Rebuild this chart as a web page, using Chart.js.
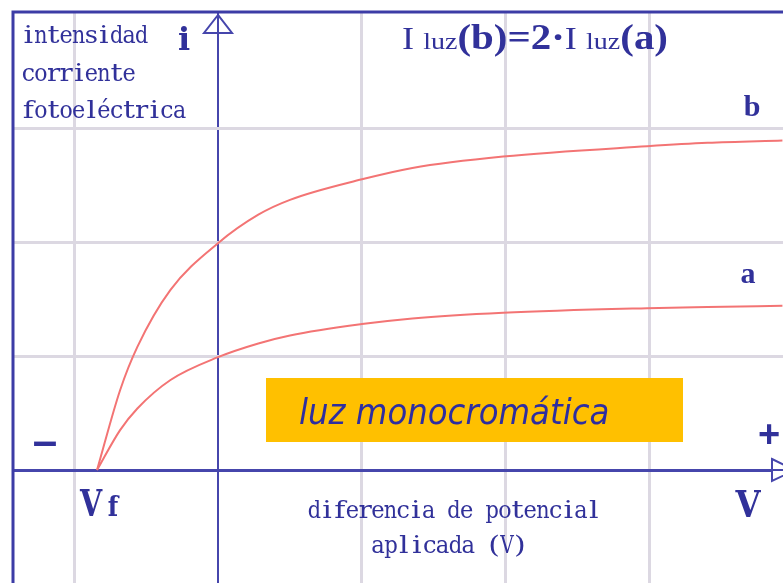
<!DOCTYPE html>
<html>
<head>
<meta charset="utf-8">
<script src="https://cdn.jsdelivr.net/npm/chart.js@4"></script>
<style>
  html, body { margin: 0; padding: 0; background: #fff; }
  #wrap { width: 783px; height: 583px; }
</style>
</head>
<body>
<div id="wrap"><canvas id="c"></canvas></div>
<script>
// photoelectric current vs applied voltage, two light intensities (b = 2·a)

const vB = [-0.84, -0.68, -0.56, -0.33, 0, 0.28, 0.5, 1.0, 1.35, 1.98, 2.98, 3.4, 3.92];
const iB = [0, 0.70, 1.08, 1.58, 1.99, 2.24, 2.37, 2.55, 2.65, 2.75, 2.84, 2.87, 2.89];
const vA = [-0.84, -0.68, -0.56, -0.33, 0, 0.28, 0.5, 1.0, 1.35, 1.98, 2.98, 3.4, 3.92];
const iA = [0, 0.35, 0.54, 0.79, 0.99, 1.11, 1.18, 1.28, 1.33, 1.38, 1.42, 1.43, 1.44];

const xGrid = [-1, 0, 1, 2, 3];
const yGrid = [0, 1, 2, 3];

const NAVY = '#31319a';
const AXIS = '#4646ac';
const GRID = '#dcd8e2';
const CURVE = '#f37474';

const pts = (xs, ys) => xs.map((x, i) => ({ x, y: ys[i] }));

// the labels use a fixed-pitch serif face: put each glyph in its own cell
function monoText(c, s, x, y, cell) {
  [...s].forEach((ch, i) => {
    const w = c.measureText(ch).width || 1;
    const k = Math.max(0.7, Math.min(1.25, (cell * 1.05) / w));
    c.save();
    c.translate(x + cell * (i + 0.5), y);
    c.scale(k, 1);
    c.textAlign = 'center';
    c.fillText(ch, 0, 0);
    c.restore();
  });
}

// run of pieces with their own fonts, squeezed into [x0, x1]
function richText(c, parts, x0, x1, y) {
  const ws = parts.map(([f, t]) => { c.font = f; return c.measureText(t).width; });
  const total = ws.reduce((s, w) => s + w, 0);
  c.save();
  c.translate(x0, y);
  c.scale((x1 - x0) / total, 1);
  c.textAlign = 'left';
  let x = 0;
  parts.forEach(([f, t], i) => { c.font = f; c.fillText(t, x, 0); x += ws[i]; });
  c.restore();
}

const decor = {
  id: 'decor',
  afterDraw(chart) {
    const c = chart.ctx;
    const sx = chart.scales.x, sy = chart.scales.y;
    const x0 = sx.getPixelForValue(0), y0 = sy.getPixelForValue(0);
    c.save();

    // outside the frame stays blank
    c.fillStyle = '#fff';
    c.fillRect(0, 0, 12, 583);
    c.fillRect(0, 0, 783, 11);

    // frame (left + top)
    c.strokeStyle = '#3c3ca6';
    c.lineWidth = 3;
    c.beginPath();
    c.moveTo(13, 583); c.lineTo(13, 12); c.lineTo(783, 12);
    c.stroke();

    // axis arrow heads
    c.fillStyle = '#fff';
    c.strokeStyle = AXIS;
    c.lineWidth = 2;
    c.beginPath();
    c.moveTo(x0, 15); c.lineTo(x0 - 14, 33); c.lineTo(x0 + 14, 33); c.closePath();
    c.fill(); c.stroke();
    c.beginPath(); c.moveTo(x0, 15); c.lineTo(x0, 33); c.stroke();
    c.beginPath();
    c.moveTo(772, y0 - 11); c.lineTo(795, y0); c.lineTo(772, y0 + 11); c.closePath();
    c.fill(); c.stroke();
    c.beginPath(); c.moveTo(772, y0); c.lineTo(783, y0); c.stroke();

    // yellow note box
    c.fillStyle = '#ffc000';
    c.fillRect(266, 378, 417, 64);
    c.fillStyle = '#2e2ea0';
    c.textBaseline = 'alphabetic';
    c.textAlign = 'left';
    c.font = 'italic 36px "DejaVu Sans"';
    c.save();
    c.translate(299, 424);
    c.scale(0.9, 1);
    c.fillText('luz monocromática', 0, 0);
    c.restore();

    // serif labels
    c.fillStyle = NAVY;
    c.font = '24px "DejaVu Serif"';
    monoText(c, 'intensidad', 22, 43, 12.6);
    monoText(c, 'corriente', 22, 81, 12.6);
    monoText(c, 'fotoeléctrica', 22, 118, 12.6);
    monoText(c, 'diferencia de potencial', 454 - 23 * 12.7 / 2, 518, 12.7);
    monoText(c, 'aplicada (V)', 449 - 12 * 12.9 / 2, 553, 12.9);

    c.font = 'bold 32px "DejaVu Serif"';
    c.textAlign = 'center';
    c.fillText('i', 184, 50);

    // formula  I luz(b)=2·I luz(a)
    const big = '31px "Liberation Serif"';
    const bold = 'bold 35px "Liberation Serif"';
    const small = '24px "Liberation Serif"';
    richText(c, [
      [big, 'I '], [small, 'luz'], [bold, '(b)=2·'],
      [big, 'I '], [small, 'luz'], [bold, '(a)'],
    ], 402, 668, 49);

    c.textAlign = 'center';
    c.font = 'bold 30px "Liberation Serif"';
    c.fillText('b', 752, 116);
    c.fillText('a', 748, 283);

    c.textBaseline = 'middle';
    c.font = 'bold 44px "Liberation Sans"';
    c.fillText('–', 45, 444);
    c.font = 'bold 38px "Liberation Sans"';
    c.fillText('+', 769, 437);

    c.textBaseline = 'alphabetic';
    c.font = 'bold 38px "DejaVu Serif"';
    c.save(); c.translate(748, 517); c.scale(0.85, 1); c.fillText('V', 0, 0); c.restore();
    c.save(); c.translate(91, 516); c.scale(0.75, 1); c.fillText('V', 0, 0); c.restore();
    c.font = 'bold 27px "DejaVu Serif"';
    c.save(); c.translate(113, 516); c.scale(0.9, 1); c.fillText('f', 0, 0); c.restore();

    c.restore();
  }
};

new Chart(document.getElementById('c'), {
  type: 'scatter',
  data: {
    datasets: [
      { label: 'b', data: pts(vB, iB), showLine: true, borderColor: CURVE, borderWidth: 2,
        pointRadius: 0, cubicInterpolationMode: 'monotone' },
      { label: 'a', data: pts(vA, iA), showLine: true, borderColor: CURVE, borderWidth: 2,
        pointRadius: 0, cubicInterpolationMode: 'monotone' },
    ],
  },
  options: {
    responsive: true,
    maintainAspectRatio: false,
    animation: false,
    layout: { padding: 0 },
    plugins: { legend: { display: false }, tooltip: { enabled: false } },
    scales: {
      x: {
        type: 'linear', min: -1.514, max: 3.924,
        afterBuildTicks: s => { s.ticks = xGrid.map(v => ({ value: v })); },
        ticks: { display: false },
        border: { display: false },
        grid: {
          drawTicks: false,
          color: ctx => ctx.tick.value === 0 ? AXIS : GRID,
          lineWidth: ctx => ctx.tick.value === 0 ? 2 : 3,
        },
      },
      y: {
        type: 'linear', min: -0.991, max: 4.123,
        afterBuildTicks: s => { s.ticks = yGrid.map(v => ({ value: v })); },
        ticks: { display: false },
        border: { display: false },
        grid: {
          drawTicks: false,
          color: ctx => ctx.tick.value === 0 ? AXIS : GRID,
          lineWidth: 3,
        },
      },
    },
  },
  plugins: [decor],
});
</script>
</body>
</html>
